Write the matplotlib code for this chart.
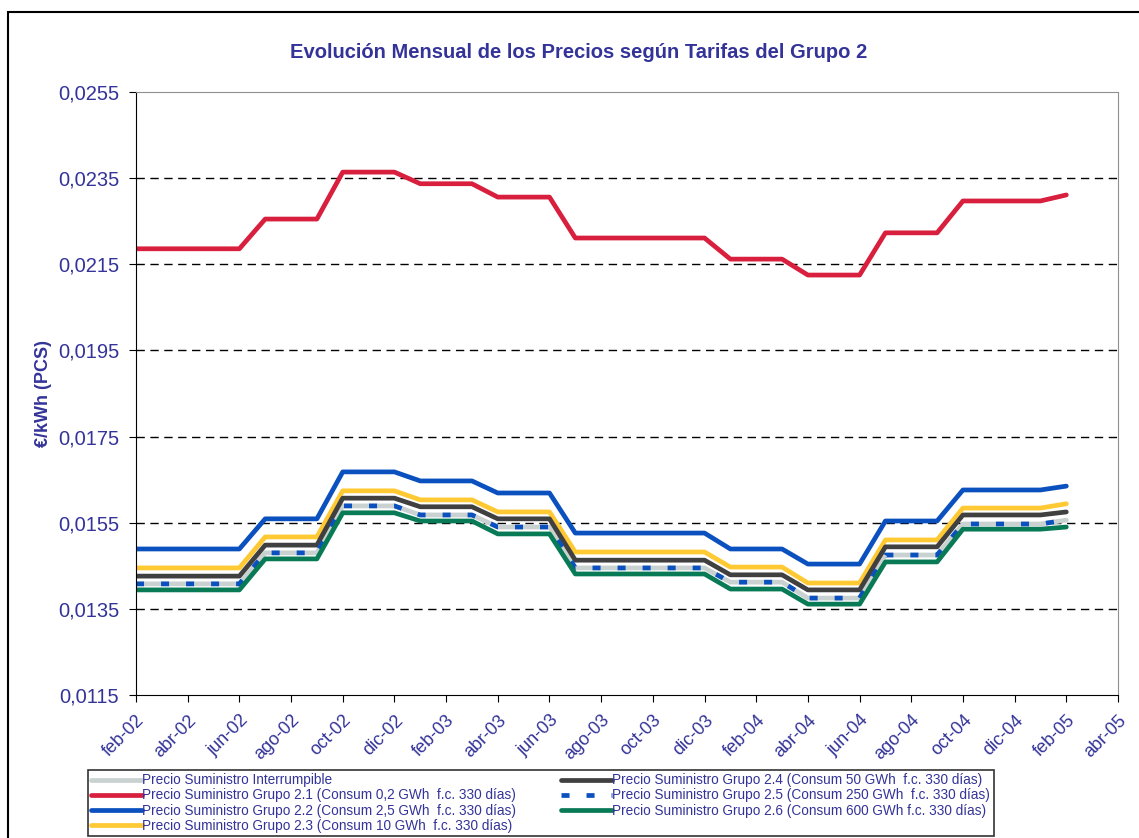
import matplotlib
matplotlib.use("Agg")
import matplotlib.pyplot as plt
from matplotlib.patches import Rectangle
from matplotlib.ticker import FuncFormatter
import numpy as np

plt.rcParams.update({"font.family": ["Liberation Sans", "DejaVu Sans"]})
NAVY = "#333399"

# month labels on the category axis (every second month)
tick_labels = ["feb-02", "abr-02", "jun-02", "ago-02", "oct-02", "dic-02",
               "feb-03", "abr-03", "jun-03", "ago-03", "oct-03", "dic-03",
               "feb-04", "abr-04", "jun-04", "ago-04", "oct-04", "dic-04",
               "feb-05", "abr-05"]

# monthly prices feb-02 .. feb-05, EUR/kWh (PCS)
interrumpible = [0.01408, 0.01408, 0.01408, 0.01408, 0.01408,
                 0.01480, 0.01480, 0.01480,
                 0.01589, 0.01589, 0.01589,
                 0.01568, 0.01568, 0.01568,
                 0.01540, 0.01540, 0.01540,
                 0.01445, 0.01445, 0.01445, 0.01445, 0.01445, 0.01445,
                 0.01412, 0.01412, 0.01412,
                 0.01375, 0.01375, 0.01375,
                 0.01475, 0.01475, 0.01475,
                 0.01547, 0.01547, 0.01547, 0.01547,
                 0.01556]
grupo_21 = [0.02186, 0.02186, 0.02186, 0.02186, 0.02186,
            0.02255, 0.02255, 0.02255,
            0.02364, 0.02364, 0.02364,
            0.02337, 0.02337, 0.02337,
            0.02306, 0.02306, 0.02306,
            0.02211, 0.02211, 0.02211, 0.02211, 0.02211, 0.02211,
            0.02162, 0.02162, 0.02162,
            0.02125, 0.02125, 0.02125,
            0.02223, 0.02223, 0.02223,
            0.02297, 0.02297, 0.02297, 0.02297,
            0.02311]
grupo_22 = [0.01489, 0.01489, 0.01489, 0.01489, 0.01489,
            0.01559, 0.01559, 0.01559,
            0.01668, 0.01668, 0.01668,
            0.01647, 0.01647, 0.01647,
            0.01619, 0.01619, 0.01619,
            0.01526, 0.01526, 0.01526, 0.01526, 0.01526, 0.01526,
            0.01489, 0.01489, 0.01489,
            0.01454, 0.01454, 0.01454,
            0.01554, 0.01554, 0.01554,
            0.01626, 0.01626, 0.01626, 0.01626,
            0.01635]
grupo_23 = [0.01445, 0.01445, 0.01445, 0.01445, 0.01445,
            0.01517, 0.01517, 0.01517,
            0.01624, 0.01624, 0.01624,
            0.01603, 0.01603, 0.01603,
            0.01575, 0.01575, 0.01575,
            0.01482, 0.01482, 0.01482, 0.01482, 0.01482, 0.01482,
            0.01447, 0.01447, 0.01447,
            0.01410, 0.01410, 0.01410,
            0.01510, 0.01510, 0.01510,
            0.01584, 0.01584, 0.01584, 0.01584,
            0.01594]
grupo_24 = [0.01426, 0.01426, 0.01426, 0.01426, 0.01426,
            0.01498, 0.01498, 0.01498,
            0.01607, 0.01607, 0.01607,
            0.01587, 0.01587, 0.01587,
            0.01559, 0.01559, 0.01559,
            0.01463, 0.01463, 0.01463, 0.01463, 0.01463, 0.01463,
            0.01429, 0.01429, 0.01429,
            0.01394, 0.01394, 0.01394,
            0.01494, 0.01494, 0.01494,
            0.01568, 0.01568, 0.01568, 0.01568,
            0.01575]
grupo_25 = [0.01408, 0.01408, 0.01408, 0.01408, 0.01408,
            0.01480, 0.01480, 0.01480,
            0.01589, 0.01589, 0.01589,
            0.01568, 0.01568, 0.01568,
            0.01540, 0.01540, 0.01540,
            0.01445, 0.01445, 0.01445, 0.01445, 0.01445, 0.01445,
            0.01412, 0.01412, 0.01412,
            0.01375, 0.01375, 0.01375,
            0.01475, 0.01475, 0.01475,
            0.01547, 0.01547, 0.01547, 0.01547,
            0.01556]
grupo_26 = [0.01394, 0.01394, 0.01394, 0.01394, 0.01394,
            0.01466, 0.01466, 0.01466,
            0.01573, 0.01573, 0.01573,
            0.01554, 0.01554, 0.01554,
            0.01524, 0.01524, 0.01524,
            0.01431, 0.01431, 0.01431, 0.01431, 0.01431, 0.01431,
            0.01396, 0.01396, 0.01396,
            0.01361, 0.01361, 0.01361,
            0.01459, 0.01459, 0.01459,
            0.01535, 0.01535, 0.01535, 0.01535,
            0.01540]

series = [
    (interrumpible, "Precio Suministro Interrumpible", "#c9d1d1", "-"),
    (grupo_21, "Precio Suministro Grupo 2.1 (Consum 0,2 GWh  f.c. 330 días)", "#d81f3d", "-"),
    (grupo_22, "Precio Suministro Grupo 2.2 (Consum 2,5 GWh  f.c. 330 días)", "#0a50be", "-"),
    (grupo_23, "Precio Suministro Grupo 2.3 (Consum 10 GWh  f.c. 330 días)", "#ffc933", "-"),
    (grupo_24, "Precio Suministro Grupo 2.4 (Consum 50 GWh  f.c. 330 días)", "#404040", "-"),
    (grupo_25, "Precio Suministro Grupo 2.5 (Consum 250 GWh  f.c. 330 días)", "#0a50be", "--"),
    (grupo_26, "Precio Suministro Grupo 2.6 (Consum 600 GWh f.c. 330 días)", "#087a55", "-"),
]

W, H = 1139, 838
fig = plt.figure(figsize=(W / 100, H / 100), dpi=100)
ax = fig.add_axes([136 / W, 1 - 695 / H, 982 / W, 603 / H])

for vals, label, color, ls in series:
    x = np.arange(len(vals))
    if ls == "--":
        ax.plot(x, vals, color=color, lw=3.4, label=label, dashes=(1.7, 3.6),
                solid_capstyle="butt", dash_capstyle="butt")
    else:
        ax.plot(x, vals, color=color, lw=3.4, label=label, solid_capstyle="round")

ax.set_xlim(0, 38)
ax.set_ylim(0.0115, 0.0255)
ax.set_xticks(np.arange(0, 39, 2))
ax.set_xticklabels(tick_labels, rotation=45, ha="right", rotation_mode="anchor",
                   fontsize=13, color=NAVY)
ax.set_yticks(np.arange(0.0115, 0.02551, 0.002))
ax.yaxis.set_major_formatter(FuncFormatter(lambda v, p: f"{v:.4f}".replace(".", ",")))
ax.tick_params(axis="y", labelsize=14.5, labelcolor=NAVY, length=5, pad=7, direction="out")
ax.tick_params(axis="x", length=5, pad=7, direction="out")

for yv in np.arange(0.0135, 0.0236, 0.002):
    ax.axhline(yv, color="black", lw=1, dashes=(6, 4), zorder=0)

for s in ("top", "right"):
    ax.spines[s].set_color("#909090")
for s in ("left", "bottom"):
    ax.spines[s].set_color("black")

ax.set_ylabel("€/kWh (PCS)", fontsize=13, fontweight="bold", color=NAVY)
ax.yaxis.set_label_coords(-0.086, 0.5)

fig.text(579 / W, 1 - 52 / H, "Evolución Mensual de los Precios según Tarifas del Grupo 2",
         ha="center", va="center", fontsize=14.5, fontweight="bold", color=NAVY)

leg = fig.legend(loc="lower left", bbox_to_anchor=(88 / W, 2 / H), ncol=2,
                 fontsize=9.8, frameon=True, fancybox=False, handlelength=3.7,
                 handletextpad=0.05, columnspacing=3.3, labelspacing=0.08,
                 borderpad=0.25, borderaxespad=0)
leg.get_frame().set_edgecolor("black")
leg.get_frame().set_linewidth(1.2)
for t in leg.get_texts():
    t.set_color(NAVY)

# outer chart border
fig.patches.append(Rectangle((8 / W, -0.1), 1.2, 1 - 12 / H + 0.1, transform=fig.transFigure,
                             fill=False, ec="black", lw=1.5))

fig.savefig("out.png", dpi=100)
